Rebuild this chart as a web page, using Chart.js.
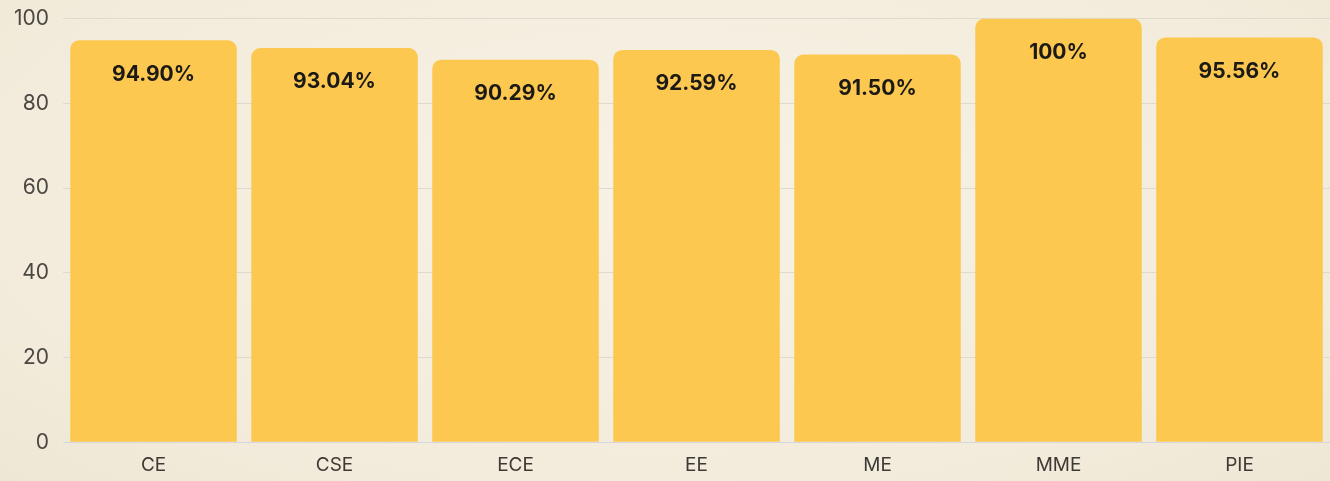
<!DOCTYPE html>
<html>
<head>
<meta charset="utf-8">
<script src="https://cdn.jsdelivr.net/npm/chart.js@4"></script>
<style>
  html, body { margin: 0; padding: 0; }
  body {
    width: 1330px; height: 481px; overflow: hidden;
    background: radial-gradient(ellipse at 50% 40%, #f7f2e6 0%, #f3ecdc 70%, #efe7d5 100%);
  }
  #wrap { position: relative; width: 1330px; height: 481px; overflow: hidden; }
  #chart { position: absolute; left: 0; top: -8px; }
</style>
</head>
<body>
<div id="wrap"><canvas id="chart" width="1330" height="489"></canvas></div>
<script>
// 학과별 비율
const departments = ['CE', 'CSE', 'ECE', 'EE', 'ME', 'MME', 'PIE'];
const rates = [94.90, 93.04, 90.29, 92.59, 91.50, 100, 95.56];
const rateLabels = ['94.90%', '93.04%', '90.29%', '92.59%', '91.50%', '100%', '95.56%'];
const yTicks = [0, 20, 40, 60, 80, 100];

/**
 * 막대 안쪽 상단에 값 표시
 */
const barLabelPlugin = {
  id: 'barLabels',
  afterDatasetsDraw(chart) {
    const ctx = chart.ctx;
    const meta = chart.getDatasetMeta(0);
    ctx.save();
    ctx.font = 'bold 21px Inter, "DejaVu Sans", sans-serif';
    ctx.fillStyle = '#1c1a16';
    ctx.textAlign = 'center';
    ctx.textBaseline = 'middle';
    meta.data.forEach((bar, i) => {
      ctx.fillText(rateLabels[i], bar.x, bar.y + 34);
    });
    ctx.restore();
  }
};

const ctx = document.getElementById('chart').getContext('2d');
new Chart(ctx, {
  type: 'bar',
  data: {
    labels: departments,
    datasets: [{
      data: rates,
      backgroundColor: '#fcc850',
      borderRadius: { topLeft: 9, topRight: 9, bottomLeft: 0, bottomRight: 0 },
      borderSkipped: 'bottom',
      categoryPercentage: 0.92,
      barPercentage: 1.0
    }]
  },
  options: {
    responsive: false,
    animation: false,
    layout: { padding: { top: 11, right: 0, bottom: 0, left: 0 } },
    plugins: {
      legend: { display: false },
      tooltip: { enabled: false }
    },
    scales: {
      x: {
        grid: { display: false },
        border: { display: true, color: '#d6d6e0' },
        ticks: {
          color: '#3d3a35',
          font: { family: 'Inter, "DejaVu Sans", sans-serif', size: 19 },
          padding: 4
        }
      },
      y: {
        min: 0,
        max: 100,
        afterBuildTicks(axis) {
          axis.ticks = yTicks.map(v => ({ value: v }));
        },
        grid: { color: '#dedad0', drawTicks: false },
        border: { display: false },
        ticks: {
          color: '#4a4742',
          font: { family: 'Inter, "DejaVu Sans", sans-serif', size: 21 },
          padding: 14
        }
      }
    }
  },
  plugins: [barLabelPlugin]
});
</script>
</body>
</html>
